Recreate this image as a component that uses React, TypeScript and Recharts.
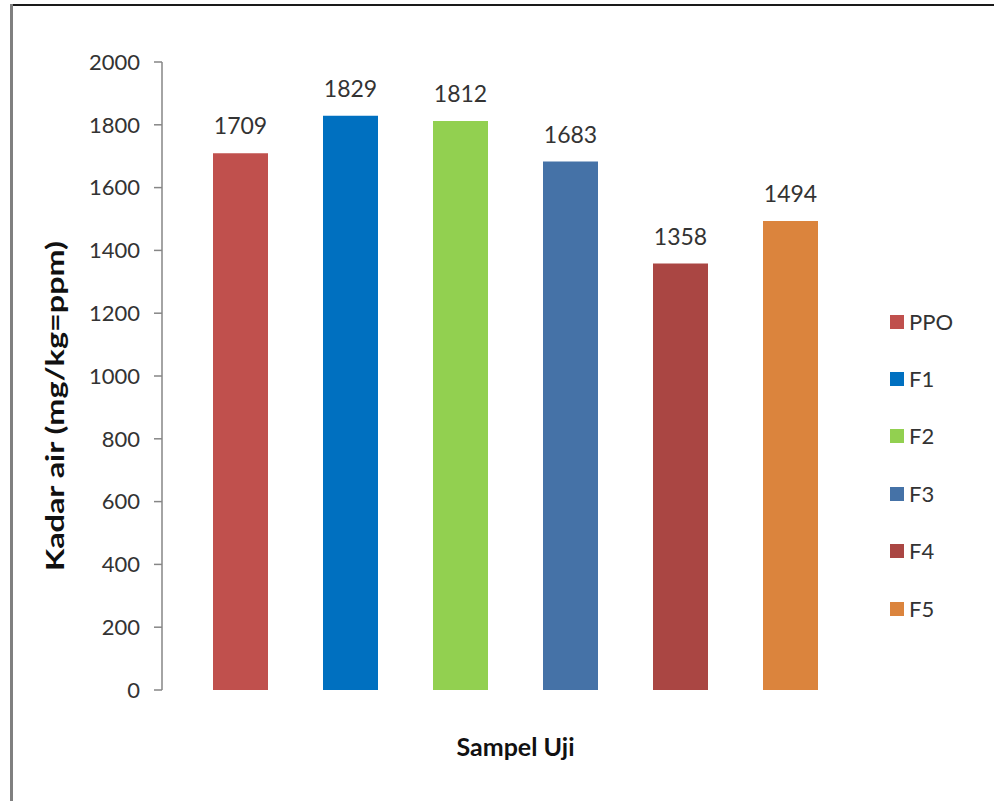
import { BarChart, Bar, XAxis, YAxis, LabelList, Label } from 'recharts';

// water content per test sample
const samples = ['PPO', 'F1', 'F2', 'F3', 'F4', 'F5'];
const kadarAir = [1709, 1829, 1812, 1683, 1358, 1494];
const barColors = ['#C0504D', '#0070C0', '#92D050', '#4572A7', '#AA4643', '#DB843D'];
const yTicks = [0, 200, 400, 600, 800, 1000, 1200, 1400, 1600, 1800, 2000];

const FONT = 'Lato, "Open Sans", sans-serif';

const row: Record<string, string | number> = { name: 'Sampel Uji' };
samples.forEach((s, i) => {
  row[s] = kadarAir[i];
});
const data = [row];

export default function App() {
  return (
    <div
      style={{
        position: 'absolute',
        left: 0,
        top: 0,
        width: 994,
        height: 801,
        background: '#fff',
        fontFamily: FONT,
      }}
    >
      {/* frame edges */}
      <div style={{ position: 'absolute', left: 12, top: 4, right: 0, height: 2, background: '#1a1a1a' }} />
      <div style={{ position: 'absolute', left: 10, top: 4, bottom: 0, width: 3, background: '#808080' }} />

      <BarChart
        width={994}
        height={801}
        data={data}
        margin={{ top: 62, right: 125, bottom: 0, left: 0 }}
        barSize={55}
        barGap={55}
        style={{ position: 'absolute', left: 0, top: 0 }}
      >
        <XAxis
          dataKey="name"
          height={111}
          axisLine={false}
          tickLine={false}
          tick={false}
        >
          <Label
            content={({ viewBox }: any) => (
              <text
                x={viewBox.x + viewBox.width / 2}
                y={viewBox.y + 66}
                textAnchor="middle"
                fontFamily={FONT}
                fontWeight="bold"
                fontSize={25}
                fill="#111"
              >
                Sampel Uji
              </text>
            )}
          />
        </XAxis>
        <YAxis
          width={162}
          domain={[0, 2000]}
          ticks={yTicks}
          interval={0}
          axisLine={{ stroke: '#868686', strokeWidth: 1.5 }}
          tickLine={{ stroke: '#868686', strokeWidth: 1.5 }}
          tickSize={8}
          tickMargin={14}
          tick={{ fontSize: 22, fill: '#333', fontFamily: FONT }}
        >
          <Label
            content={({ viewBox }: any) => {
              const cx = 64;
              const cy = viewBox.y + viewBox.height / 2 + 30;
              return (
                <text
                  x={cx}
                  y={cy}
                  transform={`rotate(-90 ${cx} ${cy})`}
                  textAnchor="middle"
                  fontFamily={FONT}
                  fontWeight="bold"
                  fontSize={25}
                  fill="#111"
                  textLength={330}
                  lengthAdjust="spacingAndGlyphs"
                >
                  Kadar air (mg/kg=ppm)
                </text>
              );
            }}
          />
        </YAxis>
        {samples.map((s, i) => (
          <Bar key={s} dataKey={s} fill={barColors[i]} isAnimationActive={false}>
            <LabelList
              dataKey={s}
              position="top"
              offset={19}
              style={{ fontSize: 23, fill: '#333', fontFamily: FONT }}
            />
          </Bar>
        ))}
      </BarChart>

      {/* legend */}
      <div style={{ position: 'absolute', left: 890, top: 293 }}>
        {samples.map((s, i) => (
          <div key={s} style={{ display: 'flex', alignItems: 'center', height: 57.4 }}>
            <span style={{ width: 14, height: 14, background: barColors[i], marginRight: 5 }} />
            <span style={{ fontSize: 22, color: '#333', lineHeight: '30px' }}>{s}</span>
          </div>
        ))}
      </div>
    </div>
  );
}
